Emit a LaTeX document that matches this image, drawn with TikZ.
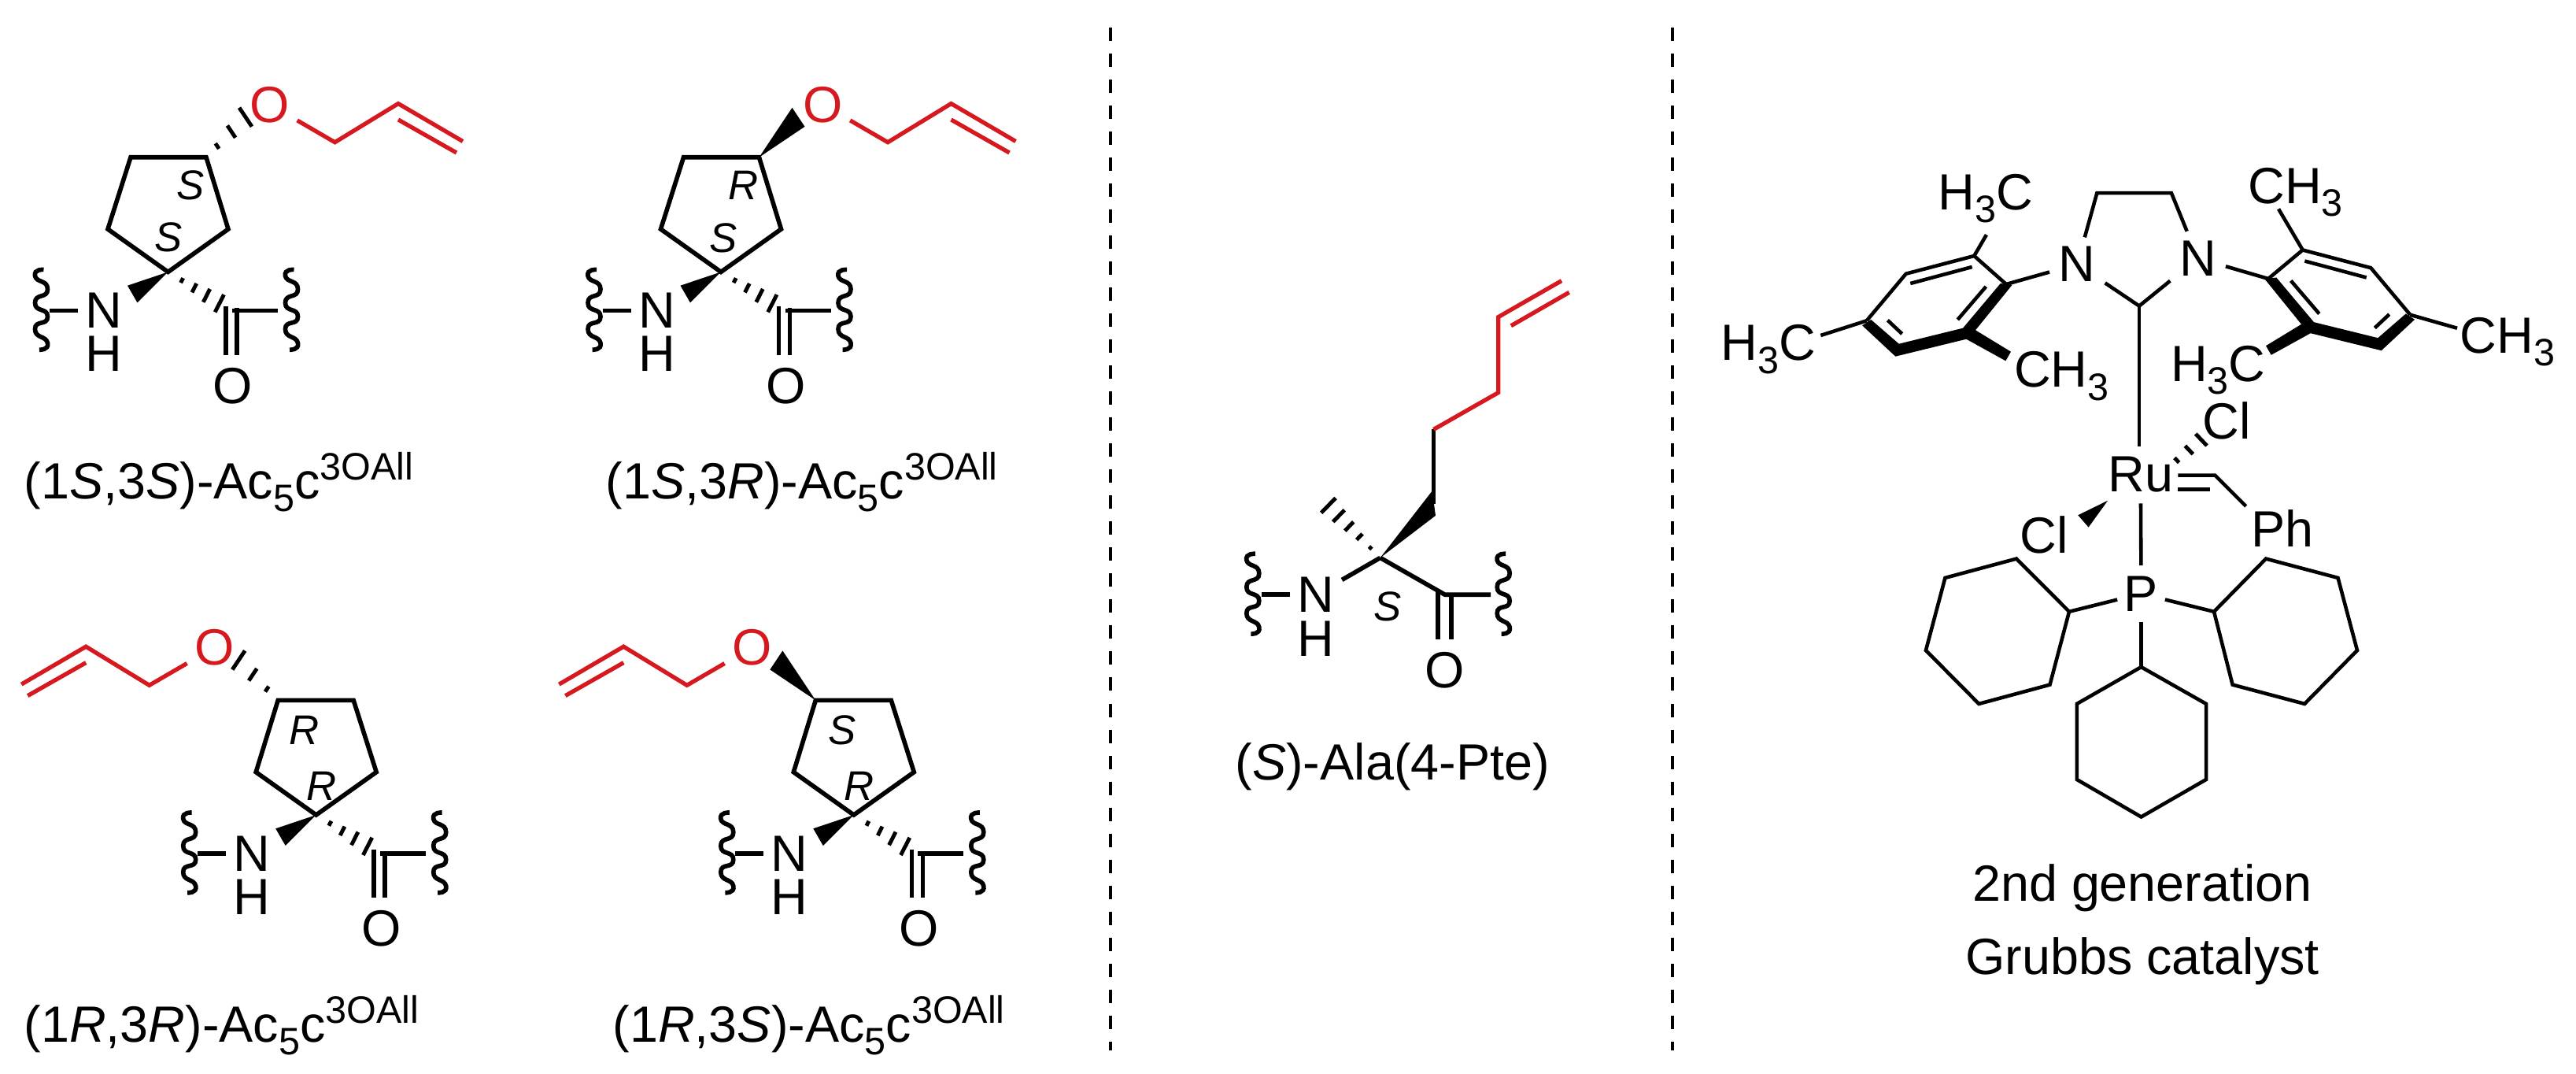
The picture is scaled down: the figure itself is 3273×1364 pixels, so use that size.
\documentclass[tikz,border=0pt]{standalone}
\usepackage{fontspec}
\setmainfont{Liberation Sans}
\usepackage{xcolor}
\usepackage{tikz}
\usetikzlibrary{calc}

\definecolor{allylred}{RGB}{214,24,31}

\newcommand{\lowsub}[1]{\raisebox{-.25em}{\scalebox{.75}{#1}}}
\newcommand{\highsup}[1]{\raisebox{.37em}{\scalebox{.75}{#1}}}
\newcommand{\acname}[2]{(1\textit{#1},3\textit{#2})-Ac\lowsub{5}c\highsup{3OAll}}
\newcommand{\wedgebond}[3]{\fill (#1) -- (#2) -- (#3) -- cycle;}
\newcommand{\hashbond}[4]{\foreach \t in {#4} \draw[hash] ($(#1)!\t!(#2)$) -- ($(#1)!\t!(#3)$);}

\begin{document}
\begin{tikzpicture}[
  x=0.01cm,
  y=-0.01cm,
  bond/.style={line width=1.6pt},
  thinbond/.style={line width=1.3pt},
  chain/.style={line width=1.5pt, draw=allylred},
  hash/.style={line width=1.4pt},
  divider/.style={line width=1.3pt, dash pattern=on 0.17cm off 0.16cm},
  atom/.style={font=\fontsize{18.4}{20}\selectfont, inner sep=2.5pt},
  group/.style={font=\fontsize{18.4}{20}\selectfont, inner sep=0pt, anchor=base west},
  stereo/.style={font=\fontsize{15}{16}\selectfont\itshape, inner sep=0pt},
  caption/.style={font=\fontsize{18.4}{20}\selectfont, inner sep=0pt, anchor=base west},
  squiggle/.pic={
    \draw[bond] plot[smooth, tension=1.3] coordinates {
      (3,-52) (-8,-44) (8,-27) (-8,-9.8) (8,7.8) (-8,23.5) (8,41.2) (-2.5,49.8)};
  }
]
\useasboundingbox (0,0) rectangle (3273,1364);

% ===== DIVIDERS =====
\coordinate (d1a) at (1411,35);
\coordinate (d1b) at (1411,1334);
\coordinate (d2a) at (2125,35);
\coordinate (d2b) at (2125,1334);
\draw[divider] (d1a) -- (d1b);
\draw[divider] (d2a) -- (d2b);

% ===== FOUR CYCLOPENTANE RESIDUES =====
\foreach \id/\ax/\ay/\flip/\tl/\tx/\ty/\bl/\bx/\by in {
  ss/213.5/345.4/1/S/28.5/-110/S/1/-44,
  sr/916/345.4/1/R/28.7/-109.6/S/3/-43.4,
  rr/401.7/1035/-1/R/-14.7/-107.2/R/6.9/-36.7,
  rs/1084.8/1035/-1/S/-15.2/-107.2/R/6.9/-36.7} {
  \begin{scope}[shift={(\ax,\ay)}]
    \coordinate (a\id) at (0,0);
    \begin{scope}[xscale=\flip]
      \coordinate (r1\id) at (-47.5,-145.6);
      \coordinate (r2\id) at (48.5,-145.6);
      \coordinate (r3\id) at (76.5,-54.4);
      \coordinate (r4\id) at (-76.5,-54.4);
      \draw[bond] (a\id) -- (r3\id) -- (r2\id) -- (r1\id) -- (r4\id) -- cycle;
      \coordinate (wa\id) at (90.5,-208.6);
      \coordinate (wb\id) at (106.5,-184.6);
      % allyl ether
      \node[atom, text=allylred] (o\id) at (129.5,-212.6) {O};
      \coordinate (c1\id) at (212,-164.7);
      \coordinate (c2\id) at (292.5,-213.8);
      \coordinate (c3\id) at (374.5,-165.9);
      \coordinate (c4\id) at (292.5,-193.4);
      \coordinate (c5\id) at (366.5,-151.4);
      \draw[chain] (o\id) -- (c1\id) -- (c2\id) -- (c3\id);
      \draw[chain] (c4\id) -- (c5\id);
    \end{scope}
    % backbone
    \coordinate (wn1\id) at (-51.5,17.3);
    \coordinate (wn2\id) at (-39,39);
    \wedgebond{a\id}{wn1\id}{wn2\id}
    \coordinate (hc1\id) at (71,28.8);
    \coordinate (hc2\id) at (59.7,51);
    \hashbond{a\id}{hc1\id}{hc2\id}{0.27,0.51,0.75,1}
    \node[atom] (n\id) at (-81.5,49) {N};
    \node[atom, inner sep=0pt] (h\id) at (-81.5,104) {H};
    \coordinate (sl\id) at (-150.5,49);
    \draw[bond] (sl\id) -- (n\id);
    \pic at (-161,49) {squiggle};
    \coordinate (co\id) at (81.5,49);
    \coordinate (sr\id) at (139.5,49);
    \draw[bond] (co\id) -- (sr\id);
    \pic at (157,49) {squiggle};
    \coordinate (dl1\id) at (73.5,44);
    \coordinate (dl2\id) at (73.5,105.4);
    \coordinate (dr1\id) at (87.5,46);
    \coordinate (dr2\id) at (87.5,105.4);
    \draw[bond] (dl1\id) -- (dl2\id);
    \draw[bond] (dr1\id) -- (dr2\id);
    \node[atom, inner sep=0pt] (ox\id) at (82.5,144.6) {O};
    % stereo labels
    \node[stereo] (st\id) at (\tx,\ty) {\tl};
    \node[stereo] (sb\id) at (\bx,\by) {\bl};
  \end{scope}
}

% ring oxygen bonds
\hashbond{r2ss}{wass}{wbss}{0.28,0.64,1}
\wedgebond{r2sr}{wasr}{wbsr}
\hashbond{r2rr}{warr}{wbrr}{0.28,0.64,1}
\wedgebond{r2rs}{wars}{wbrs}

\node[caption] (capss) at (30,633) {\acname{S}{S}};
\node[caption] (capsr) at (769,633) {\acname{S}{R}};
\node[caption] (caprr) at (30,1323) {\acname{R}{R}};
\node[caption] (caprs) at (778,1323) {\acname{R}{S}};

% ===== PENTENYL ALANINE =====
\coordinate (ma) at (1753.7,708.4);
\coordinate (mw1) at (1819.6,623.6);
\coordinate (mw2) at (1824,654.8);
\wedgebond{ma}{mw1}{mw2}
\coordinate (mh1) at (1697,632.5);
\coordinate (mh2) at (1678.7,651.3);
\hashbond{ma}{mh1}{mh2}{0.19,0.4,0.6,0.8,1}
\coordinate (mc0) at (1821.5,640);
\coordinate (mc1) at (1821.5,545.4);
\coordinate (mc2) at (1903.7,498.6);
\coordinate (mc3) at (1903.7,402.6);
\coordinate (mc4) at (1984,356.6);
\coordinate (mc5) at (1919.8,413.8);
\coordinate (mc6) at (1993.7,371.3);
\draw[bond] (mc0) -- (mc1);
\draw[chain] (mc1) -- (mc2) -- (mc3) -- (mc4);
\draw[chain] (mc5) -- (mc6);
\node[atom] (mn) at (1672.2,755.3) {N};
\node[atom, inner sep=0pt] (mh) at (1672.2,811) {H};
\coordinate (msl) at (1603.3,755.3);
\coordinate (mco) at (1836,755.3);
\coordinate (msr) at (1894.2,755.3);
\coordinate (mdl1) at (1827.2,751);
\coordinate (mdl2) at (1827.2,812.4);
\coordinate (mdr1) at (1843.7,758);
\coordinate (mdr2) at (1843.7,812.4);
\draw[bond] (msl) -- (mn);
\draw[bond] (mn) -- (ma);
\draw[bond] (ma) -- (mco) -- (msr);
\draw[bond] (mdl1) -- (mdl2);
\draw[bond] (mdr1) -- (mdr2);
\pic at (1591.8,755.3) {squiggle};
\pic at (1910.2,755.3) {squiggle};
\node[atom, inner sep=0pt] (mo) at (1836,851) {O};
\node[stereo] (ms) at (1763.3,770) {S};
\node[caption] (capm) at (1569,990) {(\textit{S})-Ala(4-Pte)};

% ===== GRUBBS CATALYST =====
\node[atom, inner sep=3.2pt] (n1) at (2639.3,335.6) {N};
\node[atom, inner sep=3.2pt] (n2) at (2792.6,328) {N};
\node[atom, inner xsep=2.3pt, inner ysep=3.7pt] (ru) at (2719.8,603) {Ru};
\node[atom, inner xsep=2.3pt, inner ysep=3.7pt] (p) at (2720.5,754) {P};
\coordinate (i1) at (2664.3,245.2);
\coordinate (i2) at (2758.9,245.2);
\coordinate (i3) at (2718,388.6);
\draw[thinbond] (n1) -- (i1) -- (i2) -- (n2);
\draw[thinbond] (n1) -- (i3) -- (n2);
\draw[thinbond] (i3) -- (i3 |- ru.north);

% left mesityl
\foreach \n/\x/\y in {1/2549/361, 2/2508.3/325, 3/2421.7/347.7, 4/2371.7/407.3,
  5/2541.7/360, 6/2556.7/361.7, 7/2510/419.3, 8/2555/446.7, 9/2548.3/458.3,
  10/2498.3/430.7, 11/2408.3/452.7, 12/2366/413.3, 13/2377.3/406, 14/2412.7/436.7, 15/2494/416.7,
  16/2427.3/360, 17/2505.7/339, 18/2398.3/406.7, 19/2416.7/424, 20/2487.3/406, 21/2523.3/364,
  22/2523.9/298.2, 23/2313.3/426}
  \coordinate (ml\n) at (\x,\y);
\draw[thinbond] (n1) -- (ml1) -- (ml2) -- (ml3) -- (ml4);
\fill (ml5) -- (ml6) -- (ml7) -- (ml8) -- (ml9) -- (ml10) -- (ml11) -- (ml12) -- (ml13) -- (ml14) -- (ml15) -- cycle;
\draw[thinbond] (ml16) -- (ml17);
\draw[thinbond] (ml18) -- (ml19);
\draw[thinbond] (ml20) -- (ml21);
\draw[thinbond] (ml2) -- (ml22);
\draw[thinbond] (ml4) -- (ml23);
\node[group] (me1) at (2461.6,266.8) {H\lowsub{3}C};
\node[group] (me2) at (2185.8,458) {H\lowsub{3}C};
\node[group] (me3) at (2558.3,491.9) {CH\lowsub{3}};

% right mesityl
\foreach \n/\x/\y in {1/2882/354, 2/2925.7/317.5, 3/3012.3/340.2, 4/3062.3/399.8,
  5/2892.3/352.5, 6/2877.3/354.2, 7/2924/411.8, 8/2879/439.2, 9/2885.7/450.8,
  10/2935.7/423.2, 11/3025.7/445.2, 12/3068/405.8, 13/3056.7/398.5, 14/3021.3/429.2, 15/2940/409.2,
  16/3006.7/352.5, 17/2928.3/331.5, 18/3035.7/399.2, 19/3017.3/416.5, 20/2946.7/398.5, 21/2910.7/356.5,
  22/2895/265.4, 23/3122/416.8}
  \coordinate (mr\n) at (\x,\y);
\draw[thinbond] (n2) -- (mr1) -- (mr2) -- (mr3) -- (mr4);
\fill (mr5) -- (mr6) -- (mr7) -- (mr8) -- (mr9) -- (mr10) -- (mr11) -- (mr12) -- (mr13) -- (mr14) -- (mr15) -- cycle;
\draw[thinbond] (mr16) -- (mr17);
\draw[thinbond] (mr18) -- (mr19);
\draw[thinbond] (mr20) -- (mr21);
\draw[thinbond] (mr2) -- (mr22);
\draw[thinbond] (mr4) -- (mr23);
\node[group] (me4) at (2855.6,258.8) {CH\lowsub{3}};
\node[group] (me5) at (3125,448.2) {CH\lowsub{3}};
\node[group] (me6) at (2757.4,484.6) {H\lowsub{3}C};

% ruthenium centre
\node[group] (cl1) at (2798,557.9) {Cl};
\node[group] (cl2) at (2566,702.9) {Cl};
\node[group] (ph) at (2860,694.6) {Ph};
\coordinate (rh0) at (2745,601.8);
\coordinate (rh1) at (2789.7,551);
\coordinate (rh2) at (2804,566);
\hashbond{rh0}{rh1}{rh2}{0.4,0.7,1}
\coordinate (rw0) at (2678.1,635.7);
\coordinate (rw1) at (2640.2,654.3);
\coordinate (rw2) at (2653.6,669.6);
\wedgebond{rw0}{rw1}{rw2}
\coordinate (rd1) at (2767.4,603.6);
\coordinate (rd2) at (2814.3,603.6);
\coordinate (rd3) at (2767.4,621.4);
\coordinate (rd4) at (2807.6,621.4);
\coordinate (rd5) at (2853.6,642.9);
\draw[thinbond] (rd1) -- (rd2) -- (rd5);
\draw[thinbond] (rd3) -- (rd4);
\draw[thinbond] (ru) -- (p);

% cyclohexyl rings
\foreach \n/\x/\y in {1/2629/776.8, 2/2562/709.6, 3/2471.4/733.9, 4/2446.9/826, 5/2514.3/893.9, 6/2604.5/869.6}
  \coordinate (cl\n) at (\x,\y);
\foreach \n/\x/\y in {1/2813/776.8, 2/2879/709.6, 3/2970.5/733.9, 4/2995/826, 5/2928.1/893.9, 6/2836.6/869.6}
  \coordinate (cr\n) at (\x,\y);
\foreach \n/\x/\y in {1/2720.5/847.1, 2/2803/893.9, 3/2803/990, 4/2720.5/1037.5, 5/2638.8/990, 6/2638.8/893.9}
  \coordinate (cb\n) at (\x,\y);
\foreach \r in {cl, cr, cb} {
  \draw[thinbond] (\r1) -- (\r2) -- (\r3) -- (\r4) -- (\r5) -- (\r6) -- cycle;
  \draw[thinbond] (p) -- (\r1);
}

\node[font=\fontsize{18.4}{26.4}\selectfont, align=center, inner sep=0pt] (capg) at (2722,1174) {2nd generation\\Grubbs catalyst};

\end{tikzpicture}
\end{document}
